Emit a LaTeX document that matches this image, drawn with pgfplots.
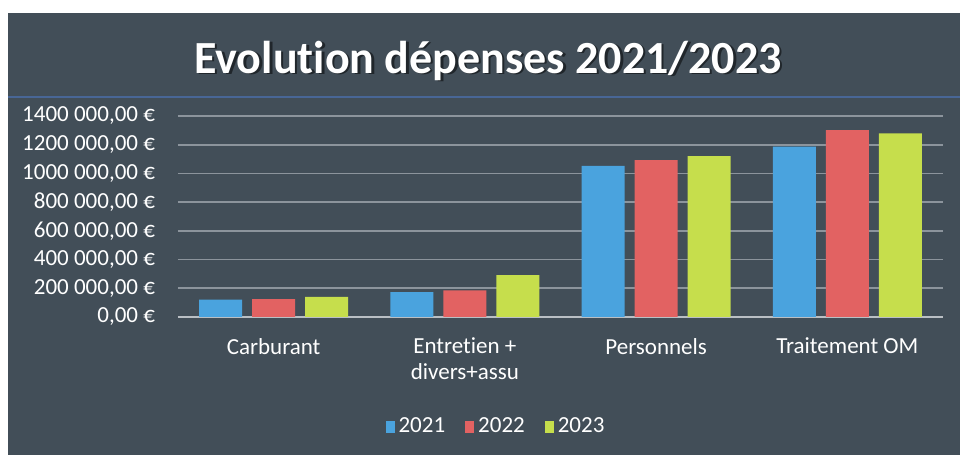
\documentclass[border=0pt]{standalone}
\usepackage{fontspec}
\setmainfont{Carlito}[Ligatures={NoCommon}]
\usepackage{pgfplots}
\pgfplotsset{compat=1.18}
\definecolor{bg}{RGB}{66,78,88}
\definecolor{b21}{RGB}{74,163,222}
\definecolor{r22}{RGB}{226,98,98}
\definecolor{g23}{RGB}{198,222,76}
\definecolor{gridc}{RGB}{140,148,156}
\definecolor{titleline}{RGB}{72,102,150}
\begin{document}
\begin{tikzpicture}[x=1pt,y=1pt]
\fill[white] (0,0) rectangle (480,227.5);
\fill[bg] (4,0) rectangle (480,221);
\useasboundingbox (0,0) rectangle (480,227.5);
\draw[titleline, line width=0.8pt] (4,179) -- (480,179);
\node[text=black, opacity=0.5, font=\fontsize{23}{27}\bfseries\selectfont] at (245.2,196.3) {Evolution dépenses 2021/2023};
\node[text=white, font=\fontsize{23}{27}\bfseries\selectfont] at (244,197.2) {Evolution dépenses 2021/2023};
\begin{axis}[
  at={(89pt,69pt)}, anchor=south west,
  scale only axis, width=382.5pt, height=100.5pt,
  xmin=-0.5, xmax=3.5, ymin=0, ymax=1400000,
  ybar=5pt, bar width=21.5pt,
  axis lines*=left,
  y axis line style={draw=none},
  x axis line style={draw=gridc!60!white, line width=1.2pt},
  major tick length=0pt,
  ymajorgrids, grid style={gridc, line width=0.8pt},
  xtick={0,1,2,3},
  xticklabels={Carburant,{Entretien +\\divers+assu},Personnels,Traitement OM},
  xticklabel style={align=center, text=white, font=\fontsize{11.5}{13}\selectfont, yshift=-7pt},
  ytick={0,200000,400000,600000,800000,1000000,1200000,1400000},
  yticklabels={{0,00 €},{200 000,00 €},{400 000,00 €},{600 000,00 €},{800 000,00 €},{1000 000,00 €},{1200 000,00 €},{1400 000,00 €}},
  yticklabel style={text=white, font=\fontsize{11.5}{13}\selectfont, xshift=-8pt},
  scaled y ticks=false,
  legend style={at={(0.417,-0.545)}, anchor=center, draw=none, fill=none, text=white, font=\fontsize{11.5}{13}\selectfont, legend columns=3, /tikz/every even column/.append style={column sep=8pt}},
  legend image code/.code={\fill[#1] (0pt,-3pt) rectangle (4.5pt,3pt);},
]
\addplot[fill=b21, draw=none] coordinates {(0,121000) (1,174000) (2,1053000) (3,1186000)};
\addplot[fill=r22, draw=none] coordinates {(0,124000) (1,186000) (2,1093000) (3,1302000)};
\addplot[fill=g23, draw=none] coordinates {(0,140000) (1,291000) (2,1121000) (3,1279000)};
\legend{2021,2022,2023}
\end{axis}
\end{tikzpicture}
\end{document}
